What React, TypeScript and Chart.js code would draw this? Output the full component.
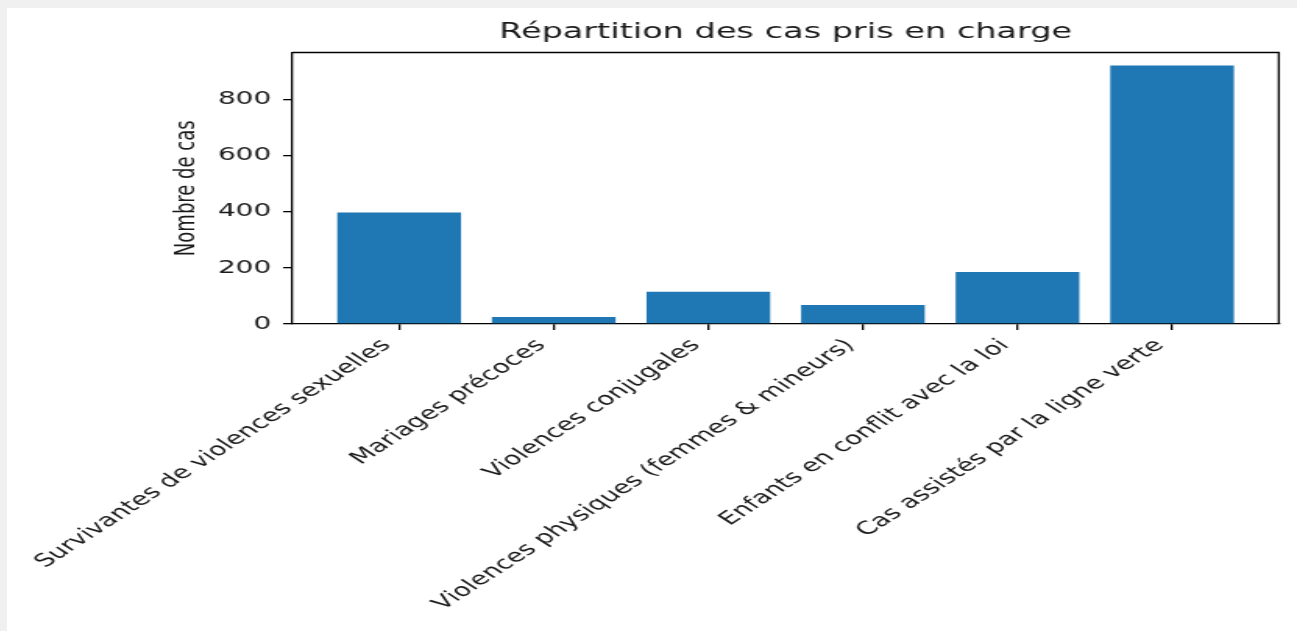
import React, { useEffect, useRef } from "react";
import { Chart, registerables } from "chart.js";

Chart.register(...registerables);

const categories = [
  "Survivantes de violences sexuelles",
  "Mariages précoces",
  "Violences conjugales",
  "Violences physiques (femmes & mineurs)",
  "Enfants en conflit avec la loi",
  "Cas assistés par la ligne verte",
];
const caseCounts = [397, 25, 115, 68, 185, 921];
const yTickValues = [0, 200, 400, 600, 800];
const chartTitle = "Répartition des cas pris en charge";
const yAxisTitle = "Nombre de cas";

const FONT = "'DejaVu Sans', sans-serif";
const TEXT = "#1a1a1a";
const OUTER_W = 1290;
const OUTER_H = 623;
const INNER_W = 827;
const STRETCH = OUTER_W / INNER_W;

const framePlugin = {
  id: "frame",
  afterDraw(chart: any) {
    const { ctx, chartArea } = chart;
    ctx.save();
    ctx.strokeStyle = "#000";
    ctx.lineWidth = 1.3;
    ctx.beginPath();
    ctx.moveTo(chartArea.left, chartArea.top);
    ctx.lineTo(chartArea.right, chartArea.top);
    ctx.lineTo(chartArea.right, chartArea.bottom);
    ctx.stroke();
    ctx.restore();
  },
};

export default function App() {
  const canvasRef = useRef<HTMLCanvasElement | null>(null);

  useEffect(() => {
    document.body.style.margin = "0";
    document.body.style.background = "#f0f0f0";
    const canvas = canvasRef.current;
    if (!canvas) return;
    const chart = new Chart(canvas, {
      type: "bar",
      data: {
        datasets: [
          {
            label: yAxisTitle,
            data: caseCounts.map((v, i) => ({ x: i, y: v })),
            backgroundColor: "#1f77b4",
            borderWidth: 0,
            barPercentage: 0.8,
            categoryPercentage: 1.0,
          },
        ],
      },
      options: {
        animation: false,
        responsive: true,
        maintainAspectRatio: false,
        layout: { padding: { left: 0, right: 11.7, top: 0, bottom: 0 } },
        plugins: {
          legend: { display: false },
          tooltip: { enabled: false },
          title: {
            display: true,
            text: chartTitle,
            fullSize: false,
            color: TEXT,
            font: { family: FONT, size: 21.5, weight: "normal" },
            padding: { top: 12, bottom: 6.7 },
          },
        },
        scales: {
          x: {
            type: "linear",
            min: -0.69,
            max: 5.69,
            offset: false,
            afterBuildTicks: (s: any) => {
              s.ticks = categories.map((_, i) => ({ value: i }));
            },
            afterFit: (s: any) => {
              s.height = OUTER_H - 316;
              s.paddingLeft = 0;
              s.paddingRight = 0;
            },
            ticks: {
              autoSkip: false,
              minRotation: 45,
              maxRotation: 45,
              padding: 5,
              labelOffset: -8,
              color: TEXT,
              font: { family: FONT, size: 18 },
              callback: (v: any) => categories[Math.round(Number(v))] ?? "",
            },
            grid: {
              offset: false,
              drawOnChartArea: false,
              drawTicks: true,
              tickLength: 6,
              color: "#000",
              lineWidth: 1.3,
            },
            border: { display: true, color: "#000", width: 1.3 },
          },
          y: {
            type: "linear",
            min: 0,
            max: 967,
            afterBuildTicks: (s: any) => {
              s.ticks = yTickValues.map((v) => ({ value: v }));
            },
            afterFit: (s: any) => {
              s.width = 183;
            },
            ticks: {
              padding: 7.5,
              color: TEXT,
              font: { family: FONT, size: 18 },
            },
            grid: {
              drawOnChartArea: false,
              drawTicks: true,
              tickLength: 6,
              color: "#000",
              lineWidth: 1.3,
            },
            border: { display: true, color: "#000", width: 1.3 },
            title: {
              display: true,
              text: yAxisTitle,
              color: TEXT,
              font: { family: FONT, size: 18 },
              padding: { top: 104.9, bottom: 0 },
            },
          },
        },
      },
      plugins: [framePlugin],
    } as any);
    return () => chart.destroy();
  }, []);

  return (
    <div
      style={{
        position: "absolute",
        left: 7,
        top: 8,
        width: OUTER_W,
        height: OUTER_H,
        background: "#fff",
        overflow: "hidden",
      }}
    >
      <div
        style={{
          position: "relative",
          width: INNER_W,
          height: OUTER_H,
          transform: `scaleX(${STRETCH})`,
          transformOrigin: "0 0",
        }}
      >
        <canvas ref={canvasRef} />
      </div>
    </div>
  );
}
